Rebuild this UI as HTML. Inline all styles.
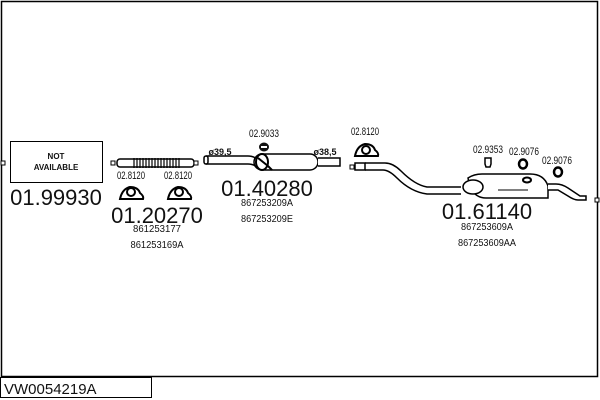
<!DOCTYPE html>
<html><head><style>
body{margin:0;background:#fff}
svg{display:block}
text{font-family:"Liberation Sans",sans-serif;fill:#111}
</style></head><body>
<svg width="600" height="400" viewBox="0 0 600 400" xmlns="http://www.w3.org/2000/svg">
<rect x="1.5" y="1.5" width="596" height="375" fill="none" stroke="#000" stroke-width="1.5"/>
<rect x="0.5" y="377.5" width="151" height="20" fill="#fff" stroke="#000"/>
<text x="4" y="394" font-size="15">VW0054219A</text>

<rect x="1" y="161" width="4" height="4" fill="#fff" stroke="#000"/>
<rect x="10.5" y="141.5" width="92" height="41" fill="#fff" stroke="#000"/>
<text x="56" y="159" font-size="8" font-weight="bold" text-anchor="middle">NOT</text>
<text x="56" y="170" font-size="8" font-weight="bold" text-anchor="middle">AVAILABLE</text>
<text x="56" y="205" font-size="22" text-anchor="middle">01.99930</text>

<rect x="111" y="161" width="4" height="4" fill="#fff" stroke="#000"/>
<rect x="117" y="159" width="77" height="8" rx="3" fill="#fff" stroke="#000" stroke-width="1.5"/>
<g stroke="#000" stroke-width="1.2">
<path d="M134 158v10M137 158v10M140 158v10M143 158v10M146 158v10M149 158v10M152 158v10M155 158v10M158 158v10M161 158v10M164 158v10M167 158v10M170 158v10M173 158v10M176 158v10M179 158v10"/>
</g>
<rect x="194" y="161" width="4" height="4" fill="#fff" stroke="#000"/>
<text x="131" y="179" font-size="11" text-anchor="middle" textLength="28" lengthAdjust="spacingAndGlyphs">02.8120</text>
<text x="178" y="179" font-size="11" text-anchor="middle" textLength="28" lengthAdjust="spacingAndGlyphs">02.8120</text>
<g fill="#fff" stroke="#000" stroke-width="2">
<path d="M120 199 q2-10 10-12 q8 0 10 6 q4 3 3 6 z"/>
<circle cx="131" cy="192" r="4"/>
<path d="M168 199 q2-10 10-12 q8 0 10 6 q4 3 3 6 z"/>
<circle cx="179" cy="192" r="4"/>
</g>
<text x="157" y="223" font-size="22" text-anchor="middle">01.20270</text>
<text x="157" y="232" font-size="10" text-anchor="middle" textLength="48" lengthAdjust="spacingAndGlyphs">861253177</text>
<text x="157" y="248" font-size="10" text-anchor="middle" textLength="53" lengthAdjust="spacingAndGlyphs">861253169A</text>

<text x="220" y="155" font-size="9" font-weight="bold" text-anchor="middle">ø39,5</text>
<text x="264" y="137" font-size="11" text-anchor="middle" textLength="30" lengthAdjust="spacingAndGlyphs">02.9033</text>
<ellipse cx="264" cy="147" rx="5" ry="4.5" fill="#111"/>
<rect x="261" y="146" width="6" height="2" fill="#fff"/>
<path d="M206 156 h42 q6 0 10 4 M206 164 h42 q6 0 10 4" fill="none" stroke="#000" stroke-width="1.5"/>
<rect x="204" y="156" width="4" height="8" rx="2" fill="#fff" stroke="#000" stroke-width="1.5"/>
<rect x="254" y="154" width="64" height="16" rx="8" fill="#fff" stroke="#000" stroke-width="1.5"/>
<ellipse cx="262" cy="162" rx="6" ry="8" fill="#fff" stroke="#000" stroke-width="2"/>
<path d="M258 158 l10 8 l4 4" stroke="#000" stroke-width="2" fill="none"/>
<path d="M318 158 h22 v8 h-22" fill="#fff" stroke="#000" stroke-width="1.5"/>
<text x="325" y="155" font-size="9" font-weight="bold" text-anchor="middle">ø38,5</text>
<text x="267" y="196" font-size="22" text-anchor="middle">01.40280</text>
<text x="267" y="206" font-size="10" text-anchor="middle" textLength="52" lengthAdjust="spacingAndGlyphs">867253209A</text>
<text x="267" y="222" font-size="10" text-anchor="middle" textLength="52" lengthAdjust="spacingAndGlyphs">867253209E</text>

<text x="365" y="135" font-size="11" text-anchor="middle" textLength="28" lengthAdjust="spacingAndGlyphs">02.8120</text>
<path d="M355 156 q2-10 10-12 q8 0 10 6 q4 3 3 6 z" fill="#fff" stroke="#000" stroke-width="2"/>
<circle cx="366" cy="150" r="4" fill="#fff" stroke="#000" stroke-width="2"/>
<rect x="350" y="165" width="4" height="4" fill="#fff" stroke="#000"/>
<rect x="355" y="163" width="10" height="7" fill="#fff" stroke="#000" stroke-width="1.5"/>
<path d="M365 163 h20 q8 0 16 8 q14 14 26 16 h34 M365 170 h18 q6 0 14 8 q14 14 30 16 h34" fill="none" stroke="#000" stroke-width="1.5"/>
<path d="M468 178 q6-4 14-4 h48 q14 0 18 12 v12 h-62 q-10 0-16-10 z" fill="#fff" stroke="#000" stroke-width="1.5"/>
<ellipse cx="473" cy="187" rx="10" ry="7" fill="#fff" stroke="#000" stroke-width="1.5"/>
<path d="M498 190 h30" stroke="#000"/>
<ellipse cx="527" cy="180" rx="4" ry="2.5" fill="#fff" stroke="#000" stroke-width="2"/>
<path d="M548 184 h8 q6 0 12 4 l12 8 h6 v4 h-8 q-4 0-10-4 l-10-6 h-10" fill="#fff" stroke="#000" stroke-width="1.5"/>
<rect x="595" y="198" width="4" height="4" fill="#fff" stroke="#000"/>
<text x="488" y="153" font-size="11" text-anchor="middle" textLength="30" lengthAdjust="spacingAndGlyphs">02.9353</text>
<path d="M485 158 h6 v6 l-1 3 h-4 l-1-3z" fill="#fff" stroke="#000" stroke-width="1.5"/>
<text x="524" y="155" font-size="11" text-anchor="middle" textLength="30" lengthAdjust="spacingAndGlyphs">02.9076</text>
<ellipse cx="523" cy="164" rx="4" ry="4.5" fill="#fff" stroke="#000" stroke-width="2.5"/>
<text x="557" y="164" font-size="11" text-anchor="middle" textLength="30" lengthAdjust="spacingAndGlyphs">02.9076</text>
<ellipse cx="558" cy="172" rx="4" ry="4.5" fill="#fff" stroke="#000" stroke-width="2.5"/>
<text x="487" y="219" font-size="22" text-anchor="middle">01.61140</text>
<text x="487" y="230" font-size="10" text-anchor="middle" textLength="52" lengthAdjust="spacingAndGlyphs">867253609A</text>
<text x="487" y="246" font-size="10" text-anchor="middle" textLength="58" lengthAdjust="spacingAndGlyphs">867253609AA</text>
</svg>
</body></html>
